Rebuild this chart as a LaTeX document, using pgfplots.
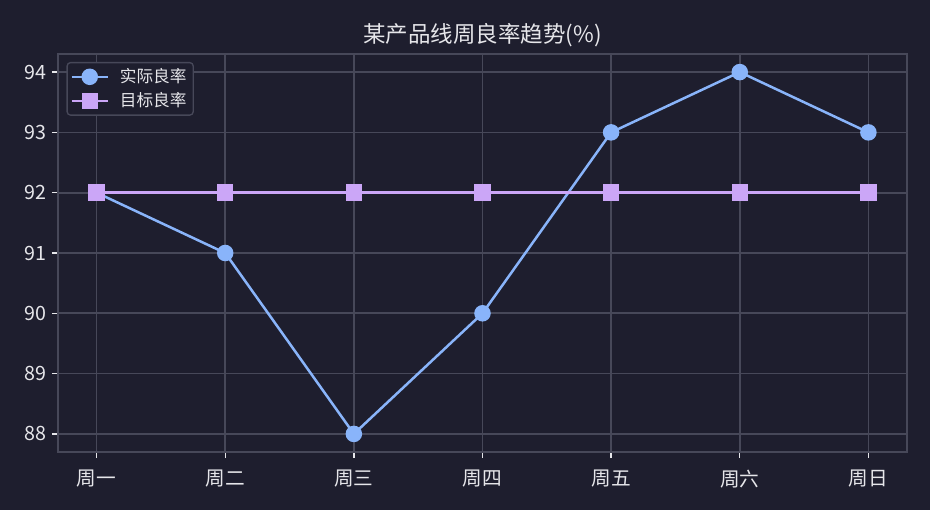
\documentclass[border=0pt]{standalone}
\usepackage{pgfplots}
\pgfplotsset{compat=1.18}
\usepackage{fontspec}
\setmainfont{Noto Sans CJK SC}

\definecolor{bg}{HTML}{1E1E2E}
\definecolor{gridc}{HTML}{474859}
\definecolor{fg}{HTML}{E6E6EA}
\definecolor{actual}{HTML}{89B4FA}
\definecolor{target}{HTML}{CBA6F7}

\begin{document}
\begin{tikzpicture}[x=1pt,y=1pt]
% page background, 930x510 px at 0.6pt per px
\fill[bg] (-34.8,-34.8) rectangle (523.2,271.2);
\begin{axis}[
    at={(0,0)}, anchor=south west,
    scale only axis,
    width=509.4pt, height=238.8pt,
    xmin=-0.3, xmax=6.3,
    ymin=87.7, ymax=94.3,
    xtick={0,1,2,3,4,5,6},
    xticklabels={周一,周二,周三,周四,周五,周六,周日},
    ytick={88,89,90,91,92,93,94},
    grid=major,
    grid style={gridc, line width=1pt},
    axis line style={gridc, line width=1pt},
    tick style={fg, line width=0.8pt},
    tick align=outside,
    tick pos=left,
    major tick length=3.6pt,
    ticklabel style={text=fg, font=\fontsize{11.8}{14}\selectfont},
    xticklabel style={yshift=-3.6pt},
    /pgf/number format/assume math mode=true,
    title={某产品线周良率趋势(\%)},
    title style={text=fg, font=\fontsize{13.5}{16}\selectfont, at={(0.5,1)}, anchor=base, yshift=1.2pt},
    legend style={at={(0.01,0.98)}, anchor=north west,
        fill=bg, draw=gridc, line width=0.8pt, rounded corners=2pt,
        text=fg, font=\fontsize{10}{12}\selectfont,
        inner xsep=2pt, inner ysep=1.5pt, row sep=0.5pt,
        /tikz/every odd column/.append style={column sep=4.5pt}},
    legend cell align=left,
    legend image code/.code={
        \draw[mark repeat=2, mark phase=2] plot coordinates {(0cm,0cm) (0.38cm,0cm) (0.76cm,0cm)};},
]
\addplot[actual, line width=1.5pt, mark=*, mark size=4.2pt, mark options={fill=actual, draw=actual}]
  coordinates {(0,92) (1,91) (2,88) (3,90) (4,93) (5,94) (6,93)};
\addlegendentry{实际良率}
\addplot[target, line width=1.5pt, mark=square*, mark size=4.2pt, mark options={fill=target, draw=target}]
  coordinates {(0,92) (1,92) (2,92) (3,92) (4,92) (5,92) (6,92)};
\addlegendentry{目标良率}
\end{axis}
\end{tikzpicture}
\end{document}
